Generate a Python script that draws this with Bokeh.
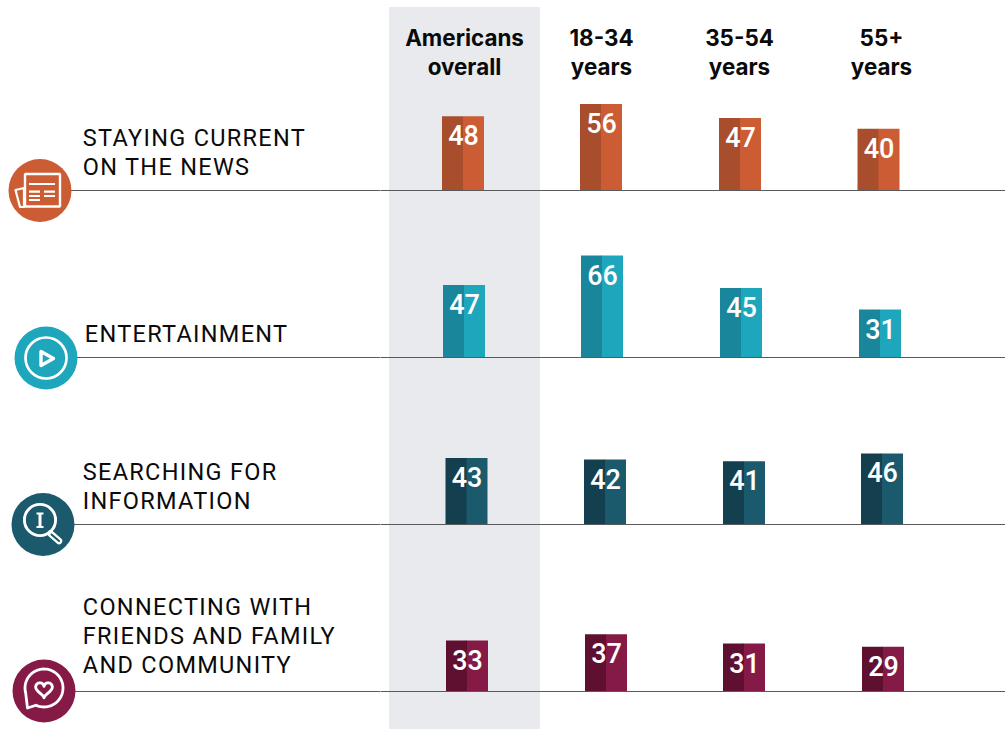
import numpy as np
from bokeh.plotting import figure
from bokeh.layouts import row
from bokeh.models import Range1d, ColumnDataSource
from bokeh.core.properties import value
from bokeh.embed import file_html
from bokeh.resources import INLINE

# ---- data ----
groups = ["Americans overall", "18-34 years", "35-54 years", "55+ years"]
categories = [
    ["STAYING CURRENT", "ON THE NEWS"],
    ["ENTERTAINMENT"],
    ["SEARCHING FOR", "INFORMATION"],
    ["CONNECTING WITH", "FRIENDS AND FAMILY", "AND COMMUNITY"],
]
news = [48, 56, 47, 40]
entertainment = [47, 66, 45, 31]
searching = [43, 42, 41, 46]
connecting = [33, 37, 31, 29]
series = [news, entertainment, searching, connecting]

# ---- layout and style ----
W, H = 1005, 729
SPLIT = 380
PX_PER_UNIT = 1.545
HALF = 0.5  # Bokeh's canvas is translated by half a pixel
baselines = [190, 357, 524, 691]
bar_lefts = [[442, 580, 719, 857.5], [443, 581, 720, 859],
             [445.5, 584, 723, 861], [446, 585, 723, 862]]
BAR_HALF = 21
dark = ["#A84E2C", "#1A869B", "#133F4E", "#5F1030"]
light = ["#CC5C33", "#1DA6BC", "#1A5A6C", "#851A46"]
label_x = [82.3, 84.3, 82.3, 82.3]
label_y = [[137, 166], [333], [471, 500], [606, 635, 664]]
icon_xy = [(39.5, 190), (45.5, 357.5), (42.5, 524), (43.5, 690.5)]
ICON_R = 31.5
RULE = "#58595B"
INK = "#0A0A0A"
header_x = [464, 601, 739, 881]
header_y = [36.5, 65.5]


def unit(y_px):
    """screen row -> value units measured from the bottom of the page"""
    return (H - y_px) / PX_PER_UNIT


def s(seq):
    return [v - HALF for v in seq]


# ---- left figure: labels, icons (pixel coordinates) ----
left = figure(width=SPLIT, height=H, x_range=Range1d(0, SPLIT), y_range=Range1d(H, 0),
              output_backend="svg", toolbar_location=None, min_border=0,
              outline_line_color=None, background_fill_color="white", border_fill_color="white")
left.axis.visible = False
left.grid.visible = False
left.styles = {"letter-spacing": "1.3px"}

for (cx, cy), b in zip(icon_xy, baselines):
    left.line([cx, SPLIT + 1], [b, b], line_color=RULE, line_width=1)
for (cx, cy), c in zip(icon_xy, light):
    left.circle([cx], [cy], radius=ICON_R, fill_color=c, line_color=None)

for lines, x, ys in zip(categories, label_x, label_y):
    left.text([x] * len(lines), ys, text=lines, text_font=value("Roboto"),
              text_font_size="23.5px", text_color=INK, text_align="left", text_baseline="middle")

WHITE = dict(line_color="white", line_cap="round", line_join="round")
# newspaper
nc = light[0]
left.patch(s([15.5, 24, 24, 20]), s([190, 188, 207, 207]), fill_color=nc, line_width=2.2, **WHITE)
left.quad(left=[24.5], right=[59.5], top=[173.5], bottom=[206], fill_color=nc, line_color="white", line_width=2.4)
left.line(s([29, 55]), s([184, 184]), line_color="white", line_width=2.2)
for y in (191.7, 196, 200):
    left.line(s([29, 40]), s([y, y]), line_color="white", line_width=2.2)
for y in (191.7, 196):
    left.line(s([44, 55]), s([y, y]), line_color="white", line_width=2.2)
# play
left.circle([45.5], [357.5], radius=20.5, fill_color=None, line_color="white", line_width=2.7)
left.patch(s([41, 41, 53.5]), s([351.5, 365.5, 358.5]), fill_color=light[1], line_width=3.4, **WHITE)
# search
left.circle([39.5], [519.5], radius=15.6, fill_color=None, line_color="white", line_width=2.9)
left.line(s([50.5, 59]), s([533.5, 541]), line_color="white", line_width=6.5, line_cap="round")
left.line(s([51.5, 59]), s([534.5, 541]), line_color=light[2], line_width=2, line_cap="round")
left.line(s([40, 40]), s([514, 527]), line_color="white", line_width=3)
left.line(s([36.5, 43.5]), s([513.5, 513.5]), line_color="white", line_width=1.9)
left.line(s([36.5, 43.5]), s([527, 527]), line_color="white", line_width=1.9)
# heart in speech bubble
th = np.radians(np.linspace(-195, 115, 64))
bx = list(43.5 + 19 * np.cos(th)) + [27]
by = list(687.5 + 19 * np.sin(th)) + [707.5]
bx.append(bx[0]); by.append(by[0])
left.line(bx, by, line_width=2.8, **WHITE)
t = np.linspace(0, 2 * np.pi, 60)
hx = 43.5 + 0.52 * 16 * np.sin(t) ** 3
hy = 688.5 - 0.52 * (13 * np.cos(t) - 5 * np.cos(2 * t) - 2 * np.cos(3 * t) - np.cos(4 * t))
left.line(list(hx), list(hy), line_width=2.9, **WHITE)

# ---- right figure: bars (value units on y) ----
right = figure(width=W - SPLIT, height=H, x_range=Range1d(SPLIT, W),
               y_range=Range1d(0, unit(0)),
               output_backend="svg", toolbar_location=None, min_border=0,
               outline_line_color=None, background_fill_color="white", border_fill_color="white")
right.axis.visible = False
right.grid.visible = False

right.quad(left=[388.5], right=[539.5], bottom=[0], top=[unit(6.5)], fill_color="#E9EAEE", line_color=None)

for k, vals in enumerate(series):
    base = unit(baselines[k])
    lefts = np.array(bar_lefts[k], dtype=float) - HALF
    v = np.array(vals, dtype=float)
    src = ColumnDataSource(dict(x0=lefts, xm=lefts + BAR_HALF, xo=lefts + BAR_HALF - 0.5, x1=lefts + 2 * BAR_HALF,
                                xc=lefts + BAR_HALF + HALF,
                                base=np.full(4, base), top=base + v,
                                lab=[str(i) for i in vals]))
    right.quad(left="xo", right="x1", bottom="base", top="top", source=src, fill_color=light[k], line_color=None)
    right.quad(left="x0", right="xm", bottom="base", top="top", source=src, fill_color=dark[k], line_color=None)
    right.text(x="xc", y="top", text="lab", source=src, y_offset=19, text_font=value("Roboto Medium"),
               text_font_size="27px", text_color="white", text_align="center", text_baseline="middle")
    right.line([SPLIT - 2, W], [base, base], line_color=RULE, line_width=1)

for name, x in zip(groups, header_x):
    parts = name.rsplit(" ", 1)
    right.text([x, x], [unit(header_y[0]), unit(header_y[1])], text=parts, text_font=value("Inter"),
               text_font_style="bold", text_font_size="22.4px", text_color=INK,
               text_align="center", text_baseline="middle")

page = row(left, right, spacing=0)
open("out.html", "w").write(file_html(page, INLINE))
